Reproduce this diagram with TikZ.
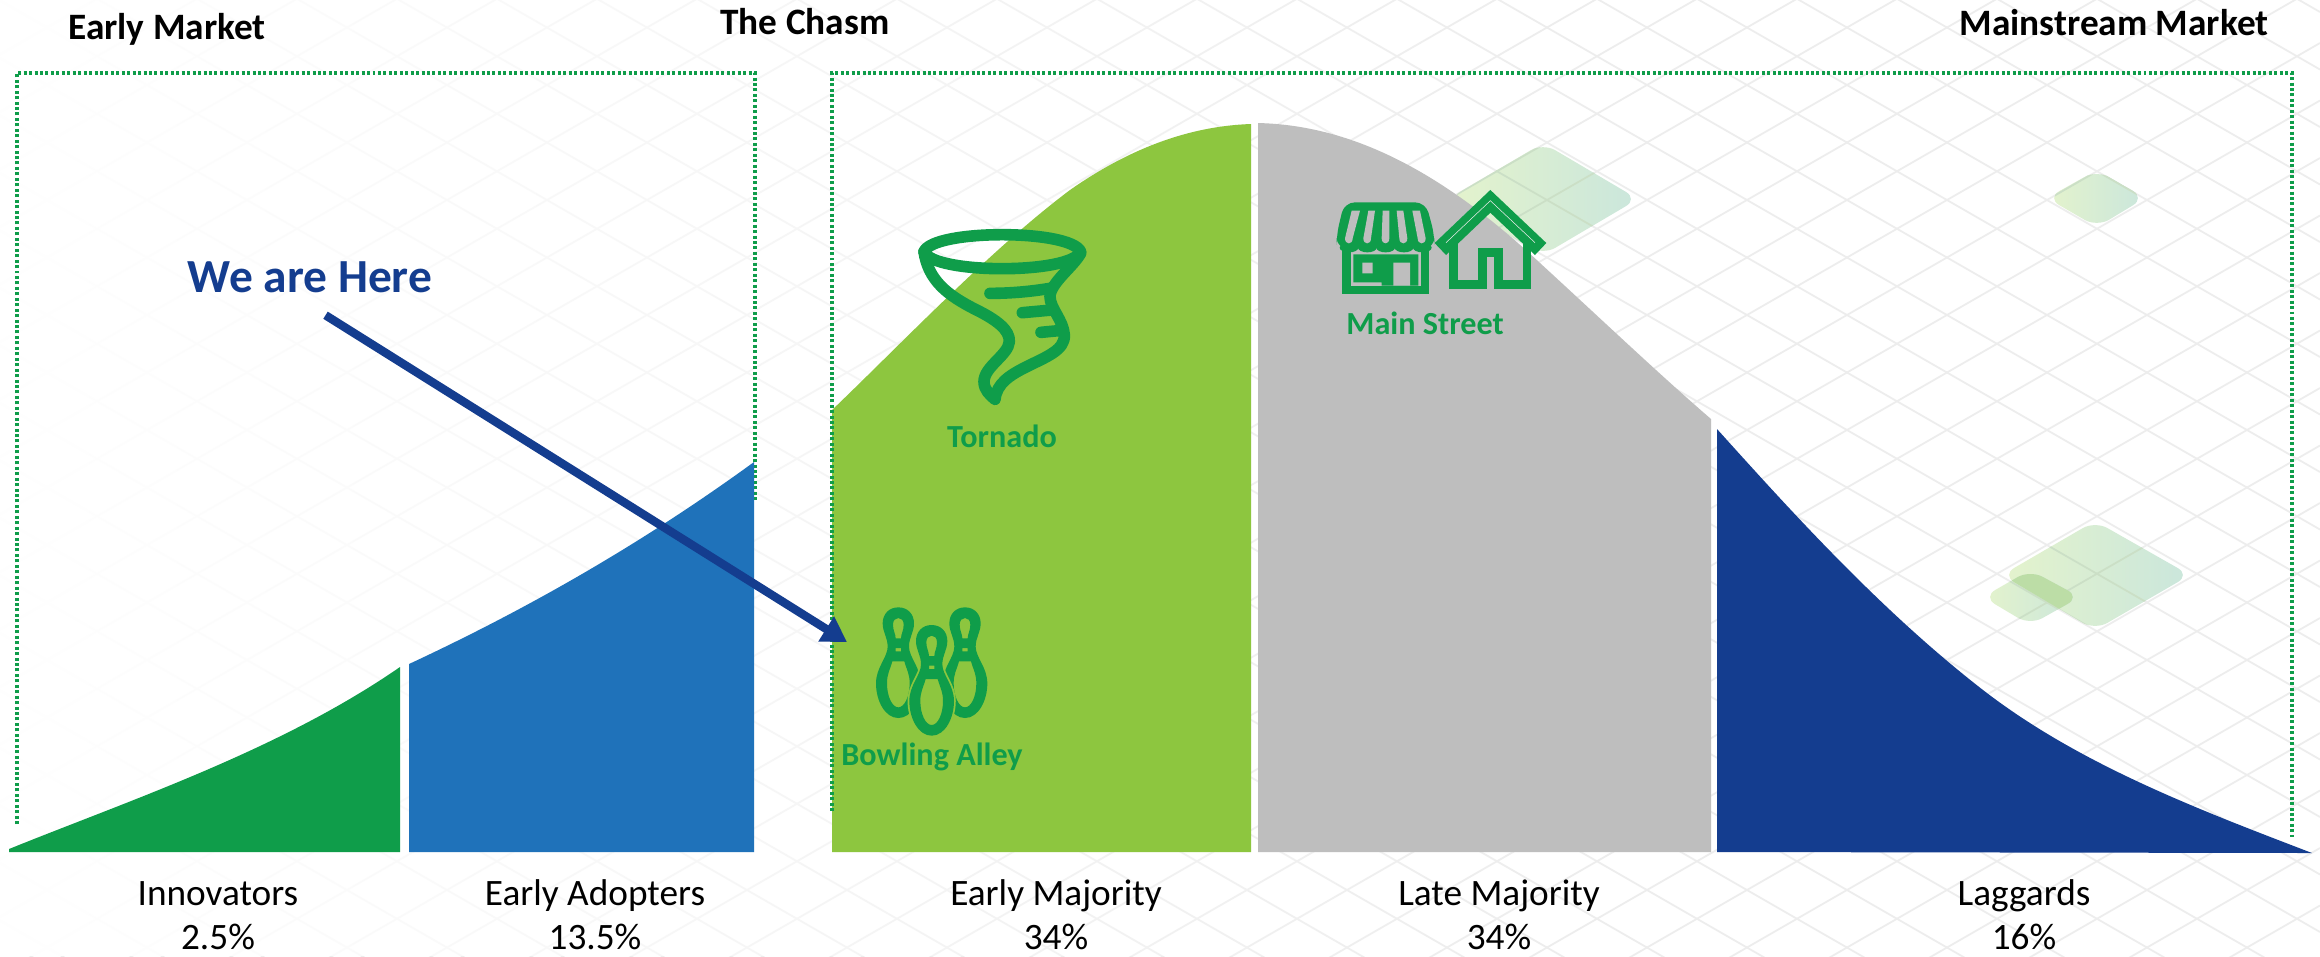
\documentclass[tikz,border=0pt]{standalone}
\usepackage{fontspec}
\setmainfont{Carlito}
\usetikzlibrary{arrows.meta,fadings}
\definecolor{innovgreen}{HTML}{0F9D4A}
\definecolor{adoptblue}{HTML}{1F72BA}
\definecolor{majgreen}{HTML}{8DC63F}
\definecolor{majgray}{HTML}{BEBEBE}
\definecolor{lagblue}{HTML}{143D8F}
\definecolor{gridgray}{HTML}{EDEDED}
\definecolor{tileleft}{HTML}{E4F3CC}
\definecolor{tileright}{HTML}{CAE6DC}
\definecolor{tilegray}{HTML}{CBDFC6}
\definecolor{tiledeep}{HTML}{BCDDA6}
\tikzset{
  headlabel/.style={font=\fontsize{10.6}{12}\bfseries\selectfont,text=black,anchor=base,inner sep=0pt},
  grouplabel/.style={font=\fontsize{10.6}{12.5}\selectfont,text=black,anchor=base,align=center,inner sep=0pt},
  iconlabel/.style={font=\fontsize{9.15}{10}\bfseries\selectfont,text=innovgreen,anchor=base,inner sep=0pt},
  marketbox/.style={innovgreen,line width=0.9pt,dash pattern=on 0.85pt off 0.7pt},
  gridline/.style={gridgray,line width=0.5pt},
  tileline/.style={tilegray,line width=0.5pt},
  iconline/.style={innovgreen,line width=3.3pt,line cap=round,line join=round},
  houseline/.style={innovgreen,line width=2.4pt,line join=miter},
}
\newcommand{\isogrid}[1]{
  \foreach \k in {-7,...,34} {
    \draw[#1] (0,{-977+57.5*\k}) -- (2320,{-977+57.5*\k+1334});
  }
  \foreach \k in {-24,...,16} {
    \draw[#1] (0,{1377+57.5*\k}) -- (2320,{1377+57.5*\k-1334});
  }
}
\newcommand{\pinoutline}{(0,0) .. controls (28,0) and (47,20) .. (47,48) .. controls (47,75) and (32,90) .. (32,118)
.. controls (32,150) and (67,180) .. (67,228) .. controls (67,280) and (40,332) .. (0,332)
.. controls (-40,332) and (-67,280) .. (-67,228) .. controls (-67,180) and (-32,150) .. (-32,118)
.. controls (-32,90) and (-47,75) .. (-47,48) .. controls (-47,20) and (-28,0) .. (0,0) -- cycle}
\newcommand{\pinholes}{(0,32) .. controls (9,32) and (16,39) .. (16,52) .. controls (16,70) and (8,80) .. (8,93)
-- (-8,93) .. controls (-8,80) and (-16,70) .. (-16,52) .. controls (-16,39) and (-9,32) .. (0,32) -- cycle
(-8,122) rectangle (8,132)
(-18,162) -- (18,162) .. controls (26,190) and (34,200) .. (34,228) .. controls (34,268) and (18,300) .. (0,300)
.. controls (-18,300) and (-34,268) .. (-34,228) .. controls (-34,200) and (-26,190) .. (-18,162) -- cycle}
\tikzset{bowlpin/.pic={
  \fill[majgreen] \pinoutline;
  \draw[majgreen,line width=1pt] \pinoutline;
  \fill[innovgreen,even odd rule] \pinoutline \pinholes;
}}
\begin{document}
\begin{tikzpicture}[x=0.01cm,y=-0.01cm]
\useasboundingbox (0,0) rectangle (2320,956);
\fill[white] (0,0) rectangle (2320,956);
\begin{scope}
\clip (0,0) rectangle (2320,956);
\isogrid{gridline}
\fill[white,path fading=east] (0,0) rectangle (1600,956);
\foreach \xl/\xm/\xr/\ym/\yt/\yb in {1448/1543/1638/199/143/255,2047/2097/2145/198/170/227,2002/2095/2190/575/521/630,1983/2030/2080/597/570/625} {
  \begin{scope}
  \clip[rounded corners=4pt] (\xl,\ym) -- (\xm,\yt) -- (\xr,\ym) -- (\xm,\yb) -- cycle;
  \shade[left color=tileleft,right color=tileright] (\xl,\yt) rectangle (\xr,\yb);
  \isogrid{tileline}
  \end{scope}
}
\begin{scope}
\clip[rounded corners=4pt] (2002,575) -- (2095,521) -- (2190,575) -- (2095,630) -- cycle;
\clip[rounded corners=4pt] (1983,597) -- (2030,570) -- (2080,597) -- (2030,625) -- cycle;
\fill[tiledeep] (1983,521) rectangle (2190,630);
\end{scope}
\end{scope}
\draw[marketbox] (17,824) -- (17,73) -- (755,73) -- (755,500);
\fill[innovgreen] (9,852) -- (9,849) .. controls (130,800) and (280,750) .. (400,667) -- (400,852) -- cycle;
\fill[adoptblue] (409,852) -- (409,664) .. controls (525,610) and (640,545) .. (754,462) -- (754,852) -- cycle;
\fill[majgreen] (832,852) -- (832,410) .. controls (900,345) and (990,250) .. (1070,190) .. controls (1130,148) and (1190,126) .. (1251,124) -- (1251,852) -- cycle;
\fill[majgray] (1258,852) -- (1258,123) .. controls (1340,125) and (1430,160) .. (1540,263) .. controls (1600,318) and (1660,375) .. (1711,419) -- (1711,852) -- cycle;
\fill[lagblue] (1717,852) -- (1717,429) .. controls (1790,510) and (1880,610) .. (1983,690) .. controls (2080,765) and (2200,810) .. (2312,853) -- cycle;
\draw[marketbox] (832,811) -- (832,73) -- (2292,73) -- (2292,837);
\begin{scope}[shift={(820,180)},x=0.01cm/3,y=-0.01cm/3]
\draw[iconline] (312,215) .. controls (340,147) and (752,147) .. (782,215) .. controls (752,283) and (340,283) .. (312,215);
\draw[iconline] (312,215) .. controls (325,300) and (380,345) .. (470,390) .. controls (530,420) and (570,450) .. (568,485)
.. controls (565,525) and (492,560) .. (492,605) .. controls (492,630) and (510,645) .. (525,658)
.. controls (530,610) and (570,585) .. (620,560) .. controls (680,530) and (735,510) .. (733,465)
.. controls (730,420) and (690,385) .. (690,350) .. controls (690,310) and (760,260) .. (782,220);
\draw[iconline] (510,340) .. controls (570,340) and (630,335) .. (690,325);
\draw[iconline] (607,398) -- (695,390);
\draw[iconline] (663,457) -- (715,452);
\end{scope}
\begin{scope}[shift={(820,570)},x=0.01cm/3,y=-0.01cm/3]
\pic at (235,112) {bowlpin};
\pic at (435,112) {bowlpin};
\pic at (335,165) {bowlpin};
\end{scope}
\begin{scope}[shift={(1335,195)},x=0.01cm/3,y=-0.01cm/3]
\fill[innovgreen] (20,150) rectangle (283,298);
\fill[majgray] (47,158) rectangle (258,272);
\fill[innovgreen] (55,178) rectangle (250,262) (140,262) rectangle (250,272);
\fill[majgray] (82,203) rectangle (113,235) (175,203) rectangle (225,272);
\fill[innovgreen,rounded corners=3pt] (28,22) -- (272,22) -- (298,118) -- (298,160) -- (5,160) -- (5,118) -- cycle;
\foreach \scallop in {42,97,152,207,262} {
  \fill[innovgreen] (\scallop,158) ellipse (28 and 14);
}
\foreach \xa/\xb/\xc/\xd in {50/75/30/53,100/120/85/108,143/163/140/163,185/205/193/217,232/255/248/272} {
  \fill[majgray] (\xa,47) -- (\xb,47) -- (\xd,130) .. controls (\xd,150) and (\xc,150) .. (\xc,130) -- cycle;
}
\end{scope}
\begin{scope}[shift={(1300,130)},x=0.01cm/3,y=-0.01cm/3]
\draw[houseline] (461,335) -- (461,464) -- (547,464) -- (547,368) -- (595,368) -- (595,464) -- (681,464) -- (681,335);
\draw[innovgreen,line width=4.7pt,miter limit=10] (421,357) -- (571,214) -- (722,357);
\draw[gridgray,line width=0.15pt] (438,338) -- (571,212) -- (705,338);
\end{scope}
\node[headlabel] (earlymarket) at (167,39) {Early Market};
\node[headlabel] (chasm) at (805,34) {The Chasm};
\node[headlabel] (mainstream) at (2114,35) {Mainstream Market};
\node[font=\fontsize{13.5}{15}\bfseries\selectfont,text=lagblue,inner xsep=0pt,inner ysep=6.3pt,anchor=base] (wehere) at (310,292) {We are Here};
\coordinate (bowlingtip) at (847,642);
\draw[lagblue,line width=2.4pt,-{Triangle[length=7pt,width=8pt]}] (wehere.-68) -- (bowlingtip);
\node[iconlabel] (tornado) at (1002,447) {Tornado};
\node[iconlabel] (bowling) at (932,765) {Bowling Alley};
\node[iconlabel] (mainstreet) at (1425,334) {Main Street};
\node[grouplabel] (innovators) at (218,949) {Innovators\\2.5\%};
\node[grouplabel] (adopters) at (595,949) {Early Adopters\\13.5\%};
\node[grouplabel] (earlymaj) at (1056,949) {Early Majority\\34\%};
\node[grouplabel] (latemaj) at (1499,949) {Late Majority\\34\%};
\node[grouplabel] (laggards) at (2024,949) {Laggards\\16\%};
\end{tikzpicture}
\end{document}
